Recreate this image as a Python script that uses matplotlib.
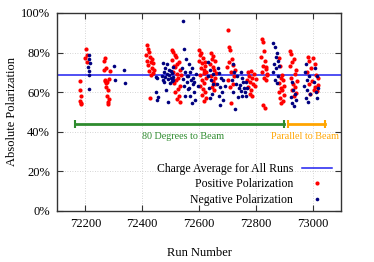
import matplotlib
matplotlib.use("Agg")
import matplotlib.pyplot as plt
from matplotlib.lines import Line2D

# ---------------- data ----------------
pos_runs = (
    [72180, 72181, 72182, 72183, 72184, 72185]
    + [72200, 72202, 72204, 72206]
    + [72265, 72266, 72268, 72269, 72270, 72272, 72273, 72274, 72275, 72277, 72278, 72280, 72281, 72283, 72284, 72285]
    + [72415, 72417, 72418, 72420, 72421, 72423, 72424, 72426, 72428, 72430, 72432, 72434, 72436, 72438, 72439, 72440]
    + [72505, 72506, 72508, 72509, 72511, 72512, 72514, 72515, 72517, 72518, 72520, 72521, 72523, 72524, 72526, 72527, 72529, 72530, 72532, 72533, 72534, 72535]
    + [72600, 72601, 72603, 72604, 72605, 72607, 72608, 72609, 72611, 72612, 72613, 72615, 72616, 72617, 72618, 72619, 72620, 72621, 72622, 72623, 72624, 72625]
    + [72640, 72642, 72643, 72645, 72646, 72648, 72649, 72651, 72652, 72654, 72655, 72657, 72658, 72660]
    + [72700, 72701, 72702, 72704, 72706, 72708, 72710, 72712, 72714, 72716, 72718, 72720, 72722, 72725]
    + [72770, 72772, 72774, 72776, 72778, 72780, 72782, 72784, 72786, 72788, 72790, 72793, 72796, 72800]
    + [72820, 72821, 72823, 72824, 72826, 72827, 72829, 72830, 72832, 72833, 72835, 72836, 72837, 72839, 72840]
    + [72880, 72881, 72883, 72884, 72886, 72887, 72889, 72890, 72892, 72893, 72895, 72896, 72898, 72900]
    + [72920, 72922, 72924, 72925, 72927, 72929, 72931, 72933, 72935, 72937, 72939, 72941, 72943, 72945]
    + [72980, 72983, 72986, 72989, 72992, 72995, 72998, 73001, 73004, 73007, 73010, 73013, 73015, 73018, 73020]
)
pos_vals = (
    [61, 65.5, 55.5, 58, 54, 54.5]
    + [77.5, 82, 79, 75]
    + [71, 76, 66, 77.5, 65.5, 72, 62.5, 64.5, 58, 65, 55, 61, 54, 56.5, 66.5, 70.5]
    + [79, 83.7, 76, 82, 73.5, 80.5, 70.5, 78, 57, 75, 68.5, 77, 72, 69.5, 74.5, 71]
    + [76.5, 81.5, 70, 80.5, 73, 64.5, 79, 60, 72.5, 66, 78, 56.5, 69, 74, 61.5, 67, 75, 58, 71, 63, 55, 68.5]
    + [76, 81.5, 68.5, 79, 63, 80, 72, 58.5, 74.5, 66, 77.5, 61.5, 71, 55.5, 69.5, 64.5, 73, 60, 75.5, 57, 67, 70]
    + [74, 80, 68, 77, 62.5, 72.5, 78.5, 65.5, 71, 61, 76, 67, 64, 69.5]
    + [72.5, 91.5, 66, 83, 75, 62.5, 81.5, 70, 54.5, 77, 64, 73.5, 68, 71]
    + [66, 70, 62.5, 68, 59, 65, 70.5, 61, 67, 58, 64, 69, 63, 66.5]
    + [78, 87, 70, 85.5, 73, 53.5, 81, 67, 76, 52, 71.5, 66, 72.5, 68.5, 69]
    + [64.5, 77.5, 60, 73, 57, 67, 62, 54.5, 68.5, 61, 55.5, 66, 58.5, 63]
    + [73, 81, 67, 79.5, 61, 75.5, 64, 58, 77, 62.5, 69, 59.5, 71, 65.5]
    + [70, 78, 64, 76, 59, 72, 65.5, 77.5, 61, 74, 62.5, 68.5, 60.5, 67, 63.5]
)

neg_runs = (
    [72210, 72211, 72212, 72213, 72214, 72215, 72213]
    + [72302, 72303]
    + [72337, 72338]
    + [72448, 72450, 72452, 72453, 72455]
    + [72470, 72472, 72474, 72476, 72478, 72480, 72482, 72484, 72486, 72488, 72490, 72492, 72494, 72496, 72498, 72500, 72502, 72504, 72506, 72508, 72509, 72510]
    + [72540, 72542, 72544, 72546, 72548, 72550, 72552, 72554, 72556, 72558, 72560]
    + [72562, 72564, 72566, 72568, 72570, 72572, 72574, 72576, 72578, 72580, 72582, 72584, 72586, 72590, 72595]
    + [72630, 72632, 72635, 72637, 72640, 72642, 72645, 72648, 72650]
    + [72665, 72667, 72669, 72671, 72673, 72675, 72678, 72680, 72683, 72686, 72690]
    + [72715, 72718, 72721, 72724, 72727, 72730, 72733, 72736, 72740]
    + [72745, 72747, 72749, 72751, 72753, 72756, 72760]
    + [72762, 72764, 72767, 72770]
    + [72860, 72862, 72864, 72866, 72868, 72870, 72872, 72874, 72876, 72878, 72879, 72880]
    + [72925, 72927, 72929, 72932, 72934, 72937, 72940]
    + [72970, 72972, 72975, 72977, 72980, 72982, 72985, 72988, 72990]
    + [73005, 73008, 73011, 73014, 73017, 73020]
)
neg_vals = (
    [72.9, 78.8, 70.7, 76.6, 68.7, 74.6, 61.5]
    + [73.4, 66]
    + [71.3, 64.5]
    + [67.8, 60.2, 67, 56, 57.7]
    + [68, 74.7, 66, 70, 65, 72, 67.5, 61, 69, 74, 66.5, 55, 68.5, 71, 64.5, 67, 70.5, 65.5, 69.5, 72.5, 66, 67.8]
    + [72, 96, 66.5, 82, 63, 70, 58, 77, 65, 68, 61.5]
    + [68, 74, 62, 70, 58, 66, 72, 54.5, 64, 67, 60, 65, 56, 69, 63]
    + [68, 75, 62, 71, 57, 66, 59, 69, 64]
    + [64, 72, 58, 69.5, 62.5, 53.5, 67, 60, 66, 56, 63]
    + [66, 74, 60, 70, 51.5, 64, 68, 57.5, 62]
    + [63.5, 70, 60.5, 67, 58, 65, 62]
    + [60, 65, 58, 62]
    + [70, 85, 74, 83, 66, 78, 72, 80, 64.5, 76, 68, 73]
    + [57.5, 65, 54.5, 61, 53, 59, 56]
    + [63, 70, 57, 74, 61, 66, 55, 68, 59]
    + [65, 72, 60, 68, 57, 62]
)

average_pol = 68.8
period_names = ["80 Degrees to Beam", "Parallel to Beam"]
period_starts = [72163, 72915]
period_ends = [72899, 73045]
period_level = 44
period_colors = ["#2e8b2e", "#ffa500"]

x_ticks = [72200, 72400, 72600, 72800, 73000]
y_ticks = [0, 20, 40, 60, 80, 100]

# ---------------- plot ----------------
plt.rcParams["font.family"] = ["Liberation Serif", "DejaVu Serif"]
fig = plt.figure(figsize=(3.74, 2.62), dpi=100)
ax = fig.add_axes([0.1524, 0.1947, 0.7594, 0.7557])

ax.set_xlim(72100, 73100)
ax.set_ylim(0, 100)
ax.set_xticks(x_ticks)
ax.set_yticks(y_ticks)
ax.set_yticklabels([f"{v}%" for v in y_ticks])
ax.grid(True, color="#c8c8c8", linestyle=(0, (1, 2)), linewidth=0.6)
ax.set_axisbelow(True)
ax.tick_params(direction="in", top=True, right=True, length=4, width=0.8,
               labelsize=9, color="#333333", pad=5)
for s in ax.spines.values():
    s.set_color("#333333")
    s.set_linewidth(1.0)

ax.axhline(average_pol, color="#1f1ff0", linewidth=1.1, zorder=2)
ax.plot(pos_runs, pos_vals, linestyle="none", marker="o", markersize=3.0,
        color="#ff0000", markeredgewidth=0, zorder=3)
ax.plot(neg_runs, neg_vals, linestyle="none", marker="o", markersize=2.6,
        color="#00007f", markeredgewidth=0, zorder=3)

text_x = [72400, 73093]
text_ha = ["left", "right"]
for name, a, b, c, tx, ha in zip(period_names, period_starts, period_ends,
                                 period_colors, text_x, text_ha):
    ax.plot([a, b], [period_level, period_level], color=c, linewidth=2.0, zorder=2)
    ax.plot([a, b], [period_level, period_level], linestyle="none", marker="|",
            markersize=6, markeredgewidth=1.5, color=c, zorder=2)
    ax.text(tx, 37.8, name, color=c, fontsize=7.3, ha=ha, va="center")

handles = [
    Line2D([], [], color="#1f1ff0", linewidth=1.1),
    Line2D([], [], linestyle="none", marker="o", markersize=3.0, color="#ff0000", markeredgewidth=0),
    Line2D([], [], linestyle="none", marker="o", markersize=2.6, color="#00007f", markeredgewidth=0),
]
labels = ["Charge Average for All Runs", "Positive Polarization", "Negative Polarization"]
ax.legend(handles, labels, loc="center right", bbox_to_anchor=(0.99, 0.135),
          frameon=False, markerfirst=False, fontsize=8.5, handlelength=2.6,
          labelspacing=0.3, handletextpad=0.7, borderpad=0)

ax.set_xlabel("Run Number", fontsize=9, labelpad=12)
ax.set_ylabel("Absolute Polarization", fontsize=9, labelpad=2)

fig.savefig("out.png", dpi=100)
